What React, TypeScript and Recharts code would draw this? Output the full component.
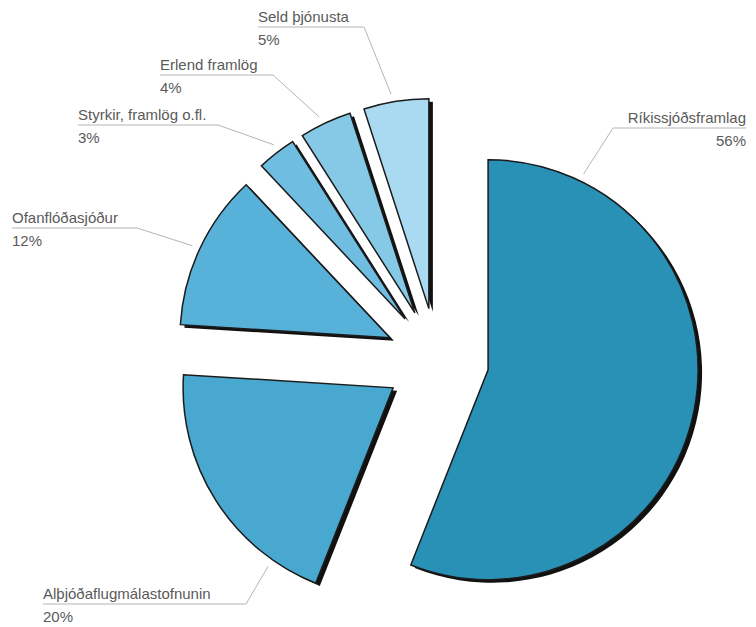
import { PieChart, Pie, Sector } from 'recharts';

const SOURCES = [
  'Ríkissjóðsframlag',
  'Alþjóðaflugmálastofnunin',
  'Ofanflóðasjóður',
  'Styrkir, framlög o.fl.',
  'Erlend framlög',
  'Seld þjónusta',
];
const SHARES = [56, 20, 12, 3, 4, 5];
const COLORS = ['#2a91b6', '#48a8cf', '#58b1d8', '#6fbde0', '#86c9e7', '#a9daf1'];

// text baseline, anchor, end of the underline, and where the leader touches the arc (deg clockwise from 12 o'clock)
const LABELS = [
  { x: 746, y: 123, anchor: 'end', elbow: 613, hit: 26 },
  { x: 43, y: 599, anchor: 'start', elbow: 246, hit: 215 },
  { x: 12, y: 223, anchor: 'start', elbow: 137, hit: 295 },
  { x: 78, y: 120, anchor: 'start', elbow: 218, hit: 323 },
  { x: 160, y: 70, anchor: 'start', elbow: 273, hit: 334 },
  { x: 258, y: 22, anchor: 'start', elbow: 364, hit: 350 },
];

const data = SOURCES.map((name, i) => ({ name, value: SHARES[i], fill: COLORS[i] }));

const EXPLODE = 52;
const RAD = Math.PI / 180;
const FONT = '"Liberation Sans", Arial, sans-serif';

const offset = (midAngle: number) => ({
  dx: EXPLODE * Math.cos(-midAngle * RAD),
  dy: EXPLODE * Math.sin(-midAngle * RAD),
});

const ExplodedSlice = (props: any) => {
  const { cx, cy, midAngle, innerRadius, outerRadius, startAngle, endAngle, fill } = props;
  const { dx, dy } = offset(midAngle);
  return (
    <g>
      {/* hard drop shadow */}
      <Sector
        cx={cx + dx + 4}
        cy={cy + dy + 3}
        innerRadius={innerRadius}
        outerRadius={outerRadius}
        startAngle={startAngle}
        endAngle={endAngle}
        fill="#111"
      />
      <Sector
        cx={cx + dx}
        cy={cy + dy}
        innerRadius={innerRadius}
        outerRadius={outerRadius}
        startAngle={startAngle}
        endAngle={endAngle}
        fill={fill}
        stroke="#1b1b1b"
        strokeWidth={1.5}
      />
    </g>
  );
};

const CalloutLabel = (props: any) => {
  const { cx, cy, midAngle, outerRadius, index } = props;
  const l = LABELS[index];
  if (!l) return null;
  const { dx, dy } = offset(midAngle);
  const r = outerRadius + 8;
  const hx = cx + dx + r * Math.sin(l.hit * RAD);
  const hy = cy + dy - r * Math.cos(l.hit * RAD);
  const uy = l.y + 5;
  return (
    <g>
      <polyline
        points={`${l.x},${uy} ${l.elbow},${uy} ${hx},${hy}`}
        fill="none"
        stroke="#b5b5b5"
        strokeWidth={1}
      />
      <text x={l.x} y={l.y} textAnchor={l.anchor} fill="#5a5a5a" fontSize={15} fontFamily={FONT}>
        {SOURCES[index]}
      </text>
      <text x={l.x} y={l.y + 23} textAnchor={l.anchor} fill="#5a5a5a" fontSize={15} fontFamily={FONT}>
        {SHARES[index]}%
      </text>
    </g>
  );
};

export default function App() {
  return (
    <div style={{ position: 'absolute', left: 0, top: 0, width: 756, height: 627, background: '#fff' }}>
      <PieChart width={756} height={627}>
        <Pie
          data={data}
          dataKey="value"
          nameKey="name"
          cx={432}
          cy={355}
          outerRadius={210}
          startAngle={90}
          endAngle={-270}
          stroke="none"
          shape={ExplodedSlice}
          label={CalloutLabel}
          labelLine={false}
          isAnimationActive={false}
        />
      </PieChart>
    </div>
  );
}
